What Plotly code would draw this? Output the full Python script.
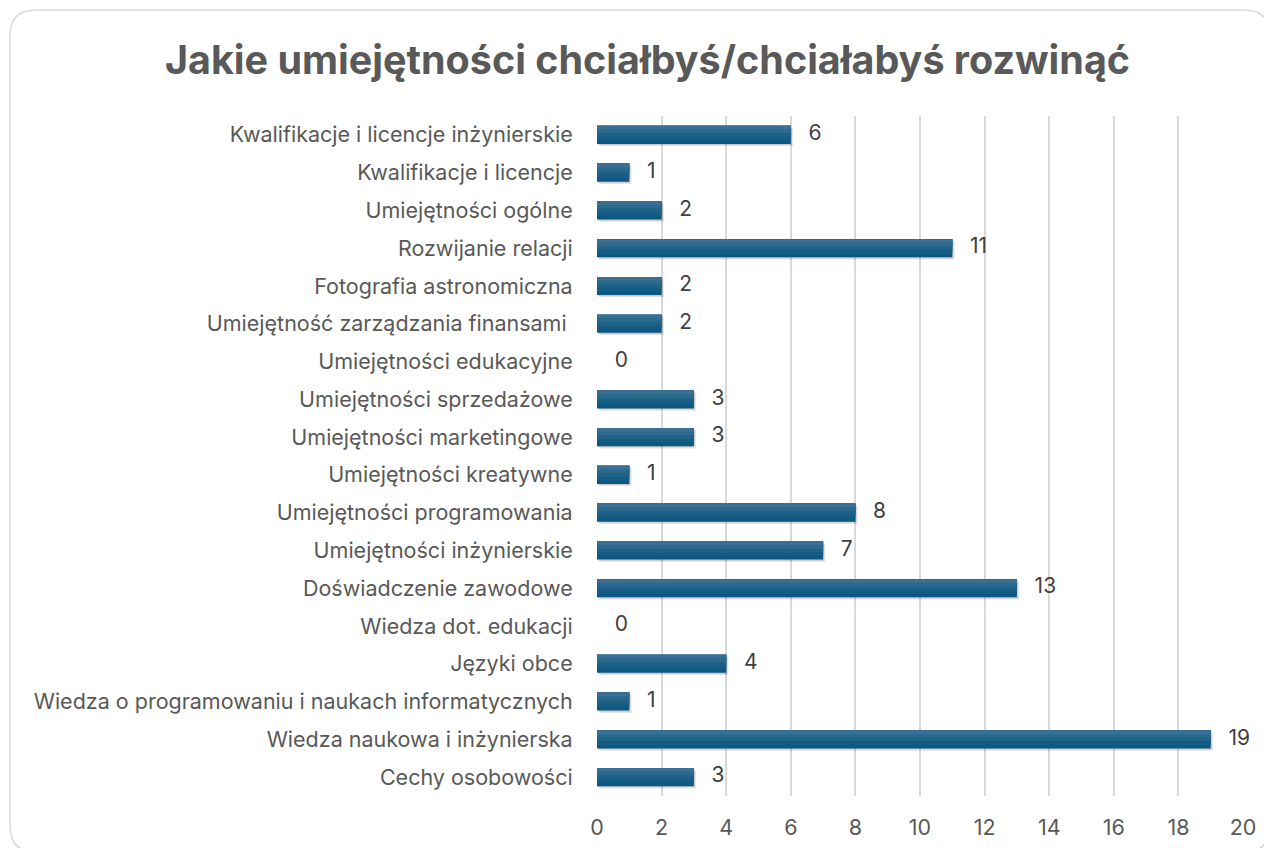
import plotly.graph_objects as go

categories = [
    "Kwalifikacje i licencje inżynierskie",
    "Kwalifikacje i licencje",
    "Umiejętności ogólne",
    "Rozwijanie relacji",
    "Fotografia astronomiczna",
    "Umiejętność zarządzania finansami ",
    "Umiejętności edukacyjne",
    "Umiejętności sprzedażowe",
    "Umiejętności marketingowe",
    "Umiejętności kreatywne",
    "Umiejętności programowania",
    "Umiejętności inżynierskie",
    "Doświadczenie zawodowe",
    "Wiedza dot. edukacji",
    "Języki obce",
    "Wiedza o programowaniu i naukach informatycznych",
    "Wiedza naukowa i inżynierska",
    "Cechy osobowości",
]
values = [6, 1, 2, 11, 2, 2, 0, 3, 3, 1, 8, 7, 13, 0, 4, 1, 19, 3]
x_ticks = list(range(0, 21, 2))

title_text = "Jakie umiejętności chciałbyś/chciałabyś rozwinąć"

FONT = "Inter"
OFF = 8  # page body margin
W, H = 1264, 840
ML, MT = 597 - OFF, 116 - OFF
PW, PH = 1243 - 597, 796 - 116
MR = W - ML - PW
MB = H - MT - PH

fig = go.Figure()

bw = 0.48
# soft shadow
fig.add_trace(go.Bar(
    y=categories, x=values, orientation="h", base=0.07,
    width=bw, offset=-bw / 2 + 0.06,
    marker=dict(color="rgba(0,0,0,0.10)", line=dict(width=0)),
    hoverinfo="skip", showlegend=False,
))
fig.add_trace(go.Bar(
    y=categories, x=values, orientation="h", base=0.03,
    width=bw, offset=-bw / 2 + 0.03,
    marker=dict(color="rgba(0,0,0,0.12)", line=dict(width=0)),
    hoverinfo="skip", showlegend=False,
))
# gradient: overlapping bars anchored at the top edge, dark -> light
strip_colors = ["#0d5880", "#145c84", "#1e6288", "#2b698d", "#3a7093"]
n = len(strip_colors)
for i, c in enumerate(strip_colors):
    fig.add_trace(go.Bar(
        y=categories, x=values, orientation="h",
        width=bw * (n - i) / n, offset=-bw / 2,
        marker=dict(color=c, line=dict(width=0)),
        hoverinfo="skip", showlegend=False,
    ))

# data labels
fig.add_trace(go.Scatter(
    y=categories, x=values, mode="text",
    text=[f"   {v}" for v in values], textposition="middle right",
    textfont=dict(family=FONT, size=21, color="#404040"),
    hoverinfo="skip", showlegend=False, cliponaxis=False,
))

# rounded border frame (screen pixel -> paper)
def px(x):
    return (x - OFF - ML) / PW

def py(y):
    return (MT + PH - (y - OFF)) / PH

x0, y0, x1, y1, r = 10, 10, 1270, 852, 26
path = (
    f"M {px(x0 + r)},{py(y0)} L {px(x1 - r)},{py(y0)} "
    f"Q {px(x1)},{py(y0)} {px(x1)},{py(y0 + r)} "
    f"L {px(x1)},{py(y1 - r)} Q {px(x1)},{py(y1)} {px(x1 - r)},{py(y1)} "
    f"L {px(x0 + r)},{py(y1)} Q {px(x0)},{py(y1)} {px(x0)},{py(y1 - r)} "
    f"L {px(x0)},{py(y0 + r)} Q {px(x0)},{py(y0)} {px(x0 + r)},{py(y0)} Z"
)
fig.add_shape(type="path", xref="paper", yref="paper", path=path,
              line=dict(color="#d9d9d9", width=1.5), layer="below")

fig.update_layout(
    width=W, height=H,
    margin=dict(l=ML, r=MR, t=MT, b=MB, autoexpand=False),
    paper_bgcolor="white", plot_bgcolor="white",
    barmode="overlay",
    title=dict(text=f"<b>{title_text}</b>", x=(647.5 - OFF) / W, xanchor="center",
               y=1 - (60 - OFF) / H, yanchor="middle",
               font=dict(family=FONT, size=39.5, color="#595959")),
    font=dict(family=FONT, size=21.5, color="#595959"),
    xaxis=dict(range=[0, 20], tickvals=x_ticks, showgrid=True,
               gridcolor="#d9d9d9", gridwidth=1.5, zeroline=False,
               showline=False, ticks="outside", ticklen=12,
               tickcolor="rgba(0,0,0,0)",
               tickfont=dict(family=FONT, size=21.5, color="#595959")),
    yaxis=dict(range=[len(categories) - 0.5, -0.5], showgrid=False, zeroline=False,
               showline=False, ticks="outside", ticklen=19,
               tickcolor="rgba(0,0,0,0)",
               tickfont=dict(family=FONT, size=21.5, color="#595959")),
)

fig.write_html("out.html")
